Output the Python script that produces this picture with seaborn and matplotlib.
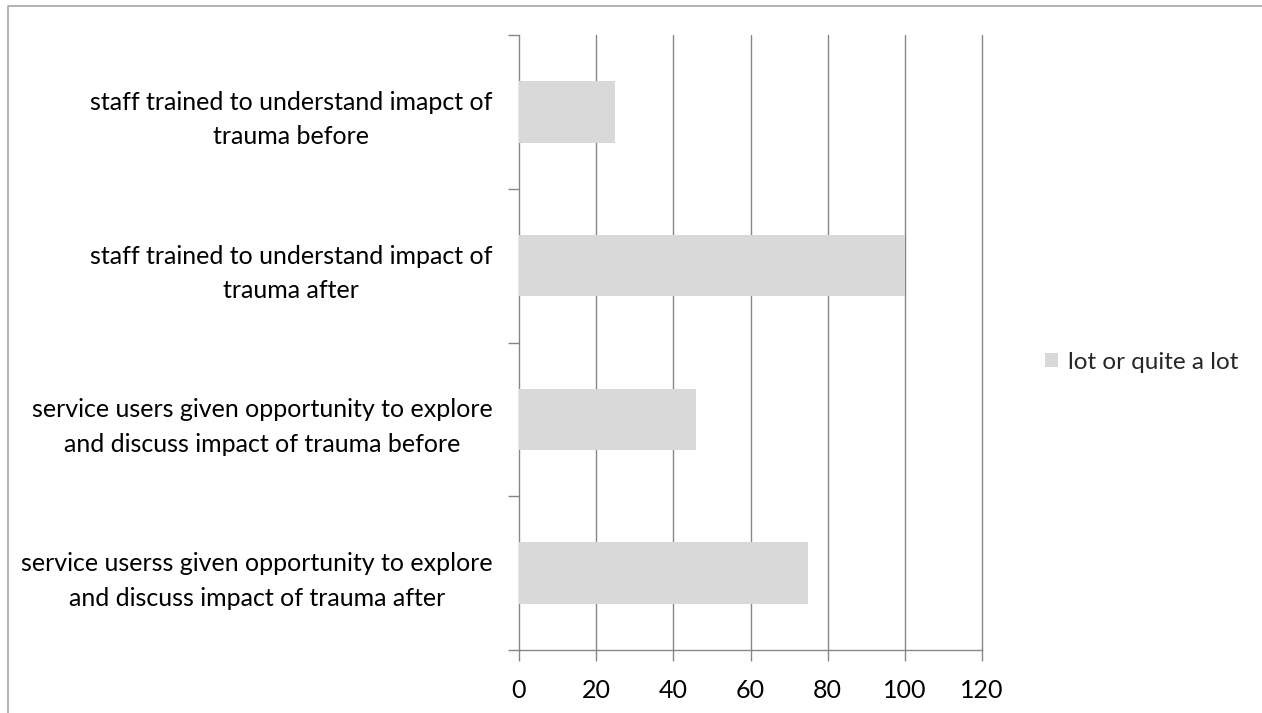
import matplotlib
matplotlib.use("Agg")
import matplotlib.pyplot as plt
import seaborn as sns
import pandas as pd
from matplotlib.patches import Patch
from matplotlib.lines import Line2D

categories = [
    "staff trained to understand imapct of\ntrauma before",
    "staff trained to understand impact of\ntrauma after",
    "service users given opportunity to explore\nand discuss impact of trauma before",
    "service userss given opportunity to explore\nand discuss impact of trauma after",
]
values = [25, 100, 46, 75]
series_name = "lot or quite a lot"
xticks = [0, 20, 40, 60, 80, 100, 120]

sns.set_theme(style="white")
plt.rcParams['font.family'] = ['Lato', 'DejaVu Sans']

W, H = 1262, 713
fig = plt.figure(figsize=(W / 100, H / 100), dpi=100)
ax = fig.add_axes([519 / W, 1 - 650 / H, (982 - 519) / W, (650 - 35) / H])

df = pd.DataFrame({"cat": categories, "val": values})
bar_color = "#d9d9d9"
grid_color = "#868686"
sns.barplot(data=df, x="val", y="cat", orient="h", color=bar_color,
            width=0.4, ax=ax, saturation=1, zorder=3, linewidth=0, edgecolor="none")

ax.set_xlim(0, 120)
ax.set_ylim(3.5, -0.5)
ax.set_xticks(xticks)
ax.set_xticklabels([str(t) for t in xticks])
ax.xaxis.grid(False)
ax.yaxis.grid(False)
for t in xticks[1:]:
    ax.axvline(t, color=grid_color, linewidth=1, zorder=0, clip_on=False)
ax.set_xlabel("")
ax.set_ylabel("")

for s in ["top", "right"]:
    ax.spines[s].set_visible(False)
for s in ["left", "bottom"]:
    ax.spines[s].set_visible(True)
    ax.spines[s].set_color(grid_color)
    ax.spines[s].set_linewidth(1)

ax.tick_params(axis="x", which="major", direction="out", length=8, width=1,
               color=grid_color, labelsize=18, labelcolor="black", pad=13, bottom=True)
ax.set_yticks(range(len(categories)))
ax.set_yticklabels(categories, ha="right", multialignment="center", linespacing=1.6)
ax.set_yticks([i - 0.5 for i in range(len(categories) + 1)], minor=True)
ax.tick_params(axis="y", which="major", length=0, labelsize=18, labelcolor="black", pad=19)
ax.tick_params(axis="y", which="minor", direction="out", length=8, width=1,
               color=grid_color, left=True)

fig.legend(handles=[Patch(facecolor=bar_color, edgecolor="none", label=series_name)],
           loc="center left", bbox_to_anchor=(1045 / W, 1 - 362 / H),
           frameon=False, fontsize=17.5, handlelength=0.55, handleheight=0.55,
           handletextpad=0.4, borderpad=0, borderaxespad=0)

fig.add_artist(Line2D([8 / W, 8 / W, 1.0], [0.0, 1 - 6 / H, 1 - 6 / H],
                      transform=fig.transFigure, color="#a6a6a6", linewidth=1.2))

fig.savefig("out.png", dpi=100)
